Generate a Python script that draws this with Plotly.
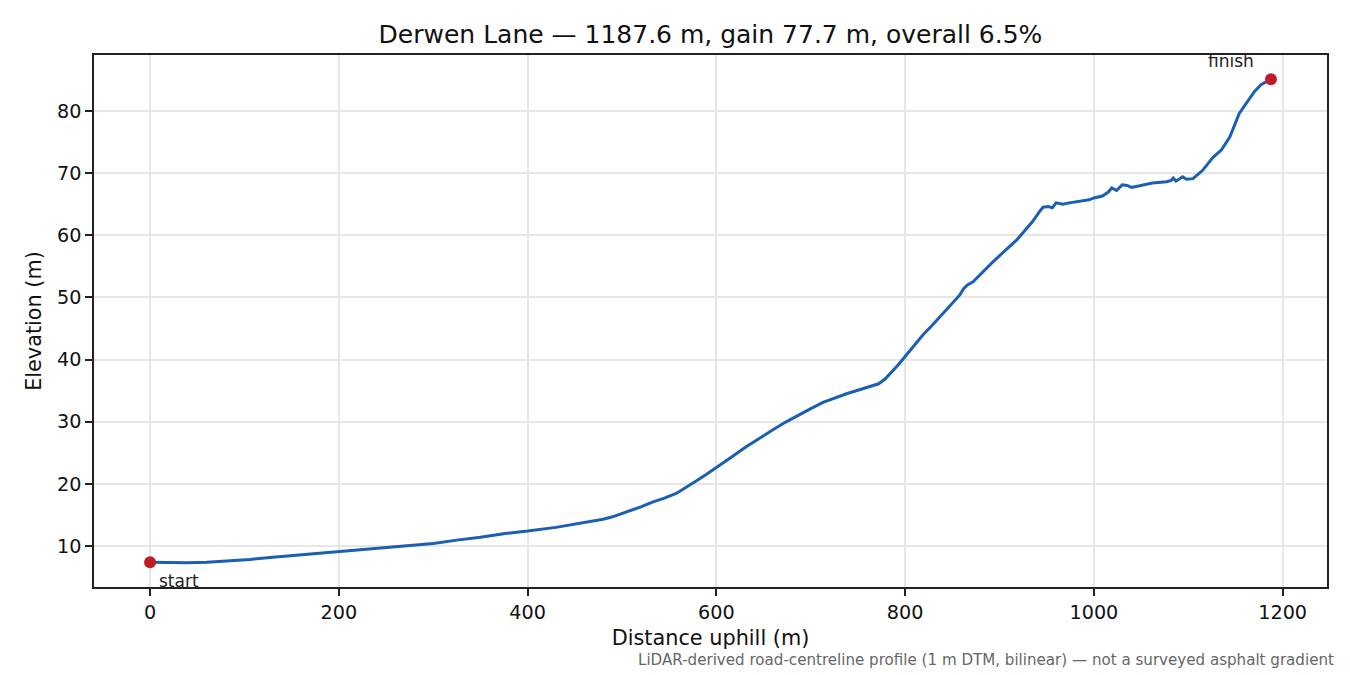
import numpy as np
import plotly.graph_objects as go

# Profil der Straße: Distanz bergauf und Höhe
distance_m = [0, 10, 25, 40, 60, 80, 106, 130, 160, 201, 230, 260, 300, 325, 350, 378,
              400, 430, 455, 466, 480, 490, 500, 510, 520, 533, 545, 558, 568, 579, 590,
              600, 615, 632, 645, 660, 673, 687, 700, 713, 725, 738, 755, 765, 772, 779,
              786, 793, 800, 810, 819, 828, 837, 848, 858, 862, 866, 872, 882, 893, 905,
              918, 926, 935, 942, 946, 952, 956, 960, 967, 974, 995, 1000, 1009, 1015,
              1019, 1024, 1030, 1035, 1040, 1062, 1077, 1082, 1084, 1087, 1094, 1098,
              1105, 1115, 1126, 1135, 1144, 1154, 1161, 1170, 1177, 1187.6]
elevation_m = [7.4, 7.35, 7.3, 7.3, 7.4, 7.55, 7.85, 8.2, 8.6, 9.1, 9.45, 9.85, 10.4,
               10.95, 11.4, 12.05, 12.4, 13.0, 13.6, 13.9, 14.3, 14.7, 15.2, 15.8, 16.3,
               17.1, 17.7, 18.5, 19.4, 20.5, 21.6, 22.6, 24.2, 26.0, 27.3, 28.7, 29.9,
               31.1, 32.1, 33.1, 33.8, 34.5, 35.3, 35.7, 36.1, 36.9, 38.0, 39.2, 40.5,
               42.3, 44.0, 45.4, 46.9, 48.6, 50.4, 51.4, 52.0, 52.5, 54.1, 55.7, 57.4,
               59.2, 60.6, 62.2, 63.7, 64.5, 64.6, 64.4, 65.2, 65.0, 65.2, 65.7, 66.0,
               66.3, 66.9, 67.6, 67.2, 68.1, 68.0, 67.7, 68.4, 68.6, 68.8, 69.2, 68.7,
               69.4, 69.0, 69.1, 70.4, 72.5, 73.7, 75.8, 79.6, 81.2, 83.1, 84.2, 85.1]

endpoint_labels = ["start", "finish"]
title_text = "Derwen Lane — 1187.6 m, gain 77.7 m, overall 6.5%"
note_text = "LiDAR-derived road-centreline profile (1 m DTM, bilinear) — not a surveyed asphalt gradient"

FONT = "DejaVu Sans"
BLUE = "#1a5fb4"
RED = "#c01c28"

# Seite hat 8 px Rand, daher Figur etwas kleiner
W, H = 1342, 667
L, R, T, B = 86, 23, 47, 88

x = np.array(distance_m)
y = np.array(elevation_m)

# Achsenbereiche mit 5 % Rand wie bei matplotlib
def padded(a):
    span = a.max() - a.min()
    return [a.min() - 0.05 * span, a.max() + 0.05 * span]

fig = go.Figure()

fig.add_trace(go.Scatter(x=x, y=y, mode="lines", line=dict(color=BLUE, width=3),
                         showlegend=False, hoverinfo="x+y"))

# Start- und Zielpunkt
fig.add_trace(go.Scatter(x=[x[0], x[-1]], y=[y[0], y[-1]], mode="markers",
                         marker=dict(color=RED, size=12), showlegend=False))

fig.add_annotation(x=x[0], y=y[0], text=endpoint_labels[0], showarrow=False,
                   xanchor="left", yanchor="middle", xshift=7, yshift=-19,
                   font=dict(family=FONT, size=17, color="#222"))
fig.add_annotation(x=x[-1], y=y[-1], text=endpoint_labels[1], showarrow=False,
                   xanchor="right", yanchor="middle", xshift=-15, yshift=18,
                   font=dict(family=FONT, size=17, color="#222"))

# Fußnote rechtsbündig unten
plot_w = W - L - R
plot_h = H - T - B
fig.add_annotation(x=(1328 - L) / plot_w, xref="paper",
                   y=-(652 - (H - B)) / plot_h, yref="paper",
                   xanchor="right", yanchor="middle", text=note_text, showarrow=False,
                   font=dict(family=FONT, size=15.1, color="#666"))

axis_common = dict(
    showline=True, linecolor="#222", linewidth=1.6, mirror=True,
    ticks="outside", ticklen=7, tickwidth=1.6, tickcolor="#222",
    showgrid=True, gridcolor="#e6e6e6", gridwidth=1.5, zeroline=False,
    tickfont=dict(family=FONT, size=19.2, color="#111"),
)

fig.update_xaxes(range=padded(x), tick0=0, dtick=200, ticklabelstandoff=0,
                 title=dict(text="Distance uphill (m)", standoff=8,
                            font=dict(family=FONT, size=20.8, color="#111")),
                 **axis_common)
fig.update_yaxes(range=padded(y), tick0=0, dtick=10, ticklabelstandoff=0,
                 title=dict(text="Elevation (m)", standoff=10,
                            font=dict(family=FONT, size=20.8, color="#111")),
                 **axis_common)

fig.update_layout(
    width=W, height=H,
    margin=dict(l=L, r=R, t=T, b=B),
    paper_bgcolor="white", plot_bgcolor="white",
    title=dict(text=title_text, x=(L + L + plot_w) / 2 / W, xanchor="center",
               y=1 - 26 / H, yanchor="middle",
               font=dict(family=FONT, size=25, color="#111")),
    font=dict(family=FONT),
)

fig.write_html("out.html")
